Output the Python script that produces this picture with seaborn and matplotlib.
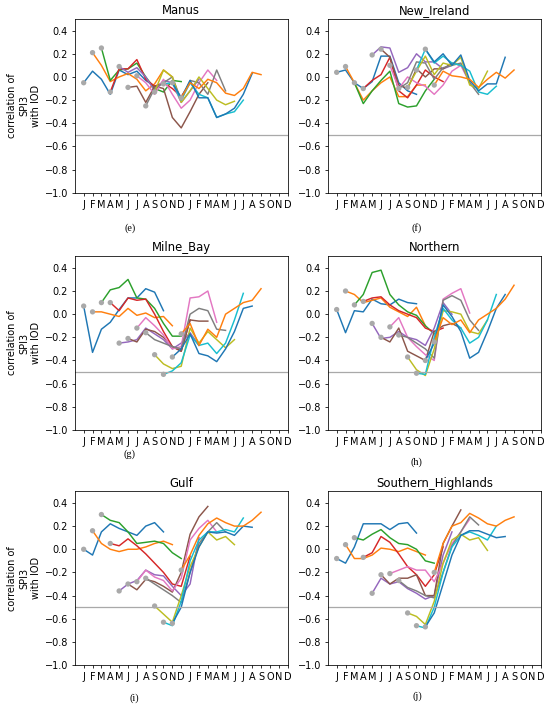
import numpy as np
import pandas as pd
import seaborn as sns
import matplotlib
matplotlib.use("Agg")
from matplotlib import pyplot as plt

# month tick labels over two years
months = list("JFMAMJJASOND") * 2
regions = ["Manus", "New_Ireland", "Milne_Bay", "Northern", "Gulf", "Southern_Highlands"]
letters = ["(e)", "(f)", "(g)", "(h)", "(i)", "(j)"]
start_months = list(range(12))   # one line per start month, 10 months long

manus = [
    [-0.05, 0.05, -0.02, -0.15, 0.06, 0.02, 0.05, -0.03, -0.08, -0.06],
    [0.21, 0.10, -0.04, 0.00, 0.03, -0.02, -0.12, -0.06, 0.06, 0.00],
    [0.25, -0.03, 0.06, 0.07, 0.12, 0.00, -0.10, -0.13, -0.03, -0.04],
    [-0.13, 0.07, 0.07, 0.15, -0.02, -0.08, -0.05, -0.10, -0.17, -0.05],
    [0.09, 0.04, 0.08, 0.00, -0.12, -0.03, -0.05, -0.22, -0.12, -0.02],
    [-0.09, -0.08, -0.22, -0.08, -0.10, -0.35, -0.44, -0.30, -0.15, -0.05],
    [0.01, -0.05, -0.15, -0.02, -0.15, -0.27, -0.20, -0.05, 0.06, -0.03],
    [-0.25, -0.10, -0.05, 0.00, -0.20, -0.03, -0.05, -0.15, 0.06, -0.12],
    [-0.13, 0.06, 0.00, -0.22, -0.12, 0.00, -0.10, -0.20, -0.24, -0.21],
    [-0.06, -0.05, -0.20, -0.05, -0.15, -0.18, -0.35, -0.32, -0.30, -0.20],
    [-0.05, -0.18, -0.03, -0.18, -0.18, -0.35, -0.32, -0.27, -0.15, 0.03],
    [-0.18, -0.05, -0.10, -0.02, -0.05, -0.14, -0.16, -0.10, 0.04, 0.02],
]
new_ireland = [
    [0.04, 0.06, -0.05, -0.10, -0.04, 0.18, 0.18, -0.05, -0.12, -0.15],
    [0.09, -0.05, -0.20, -0.12, -0.05, 0.00, -0.17, -0.17, -0.07, -0.07],
    [-0.05, -0.23, -0.12, -0.03, 0.05, -0.23, -0.26, -0.25, -0.12, -0.02],
    [-0.10, -0.03, 0.02, 0.17, -0.12, -0.18, -0.07, 0.06, 0.00, -0.04],
    [0.19, 0.26, 0.25, 0.04, 0.08, 0.20, 0.13, 0.13, 0.07, 0.10],
    [0.24, 0.17, -0.07, -0.10, 0.07, 0.00, 0.07, 0.07, 0.12, 0.10],
    [0.10, -0.10, 0.00, -0.05, -0.08, -0.15, -0.07, 0.05, 0.10, -0.05],
    [-0.10, -0.05, 0.13, 0.12, -0.02, 0.08, 0.10, 0.12, -0.05, -0.15],
    [-0.09, 0.05, 0.18, 0.02, 0.12, 0.10, 0.17, -0.07, -0.10, 0.05],
    [0.06, 0.24, 0.12, 0.18, 0.12, 0.10, 0.05, -0.13, -0.15, -0.08],
    [0.24, 0.13, 0.20, 0.10, 0.19, -0.03, -0.12, -0.06, -0.06, 0.17],
    [-0.07, 0.05, 0.01, 0.00, -0.02, -0.09, -0.02, 0.04, -0.01, 0.06],
]
milne_bay = [
    [0.07, -0.33, -0.13, -0.07, 0.04, 0.14, 0.14, 0.22, 0.19, 0.03],
    [0.02, 0.02, 0.00, -0.02, 0.05, -0.01, 0.01, -0.03, -0.02, -0.10],
    [0.10, 0.21, 0.23, 0.30, 0.14, 0.13, 0.05, -0.08, -0.19, -0.19],
    [0.10, 0.03, 0.14, 0.12, 0.13, 0.00, -0.15, -0.28, -0.32, -0.05],
    [-0.25, -0.24, -0.22, -0.12, -0.17, -0.22, -0.30, -0.25, -0.16, -0.27],
    [-0.21, -0.24, -0.13, -0.15, -0.20, -0.28, -0.32, -0.05, -0.06, -0.06],
    [-0.12, -0.03, -0.10, -0.18, -0.30, -0.28, 0.14, 0.15, 0.20, -0.07],
    [-0.16, -0.22, -0.25, -0.28, -0.30, 0.00, 0.05, 0.03, -0.13, -0.14],
    [-0.35, -0.43, -0.47, -0.45, -0.12, -0.25, -0.15, -0.22, -0.29, -0.22],
    [-0.52, -0.49, -0.42, -0.18, -0.27, -0.25, -0.34, -0.25, -0.05, 0.18],
    [-0.37, -0.30, -0.17, -0.34, -0.36, -0.41, -0.30, -0.15, 0.05, 0.07],
    [-0.17, -0.08, -0.27, -0.13, -0.20, 0.00, 0.05, 0.10, 0.12, 0.22],
]
northern = [
    [0.04, -0.16, 0.03, 0.02, 0.13, 0.09, 0.08, 0.13, 0.10, 0.09],
    [0.20, 0.17, 0.10, 0.12, 0.14, 0.06, 0.02, -0.02, 0.06, -0.10],
    [0.08, 0.17, 0.36, 0.38, 0.17, 0.08, 0.02, -0.01, -0.10, -0.17],
    [0.11, 0.14, 0.15, 0.08, 0.03, 0.00, -0.03, -0.12, -0.15, -0.12],
    [-0.08, -0.21, -0.20, -0.15, -0.20, -0.22, -0.27, -0.12, 0.10, 0.00],
    [-0.20, -0.24, -0.12, -0.32, -0.36, -0.40, -0.15, -0.10, -0.08, -0.12],
    [-0.11, -0.03, -0.20, -0.28, -0.35, -0.40, 0.13, 0.18, 0.22, 0.01],
    [-0.18, -0.20, -0.25, -0.30, -0.38, 0.12, 0.16, 0.12, -0.05, -0.14],
    [-0.37, -0.48, -0.53, -0.30, 0.03, 0.02, 0.00, -0.15, -0.17, -0.05],
    [-0.51, -0.52, -0.20, 0.05, -0.05, -0.12, -0.25, -0.20, -0.05, 0.17],
    [-0.40, -0.25, 0.08, -0.02, -0.15, -0.38, -0.33, -0.15, 0.05, 0.17],
    [-0.24, -0.03, -0.09, -0.05, -0.16, -0.05, 0.00, 0.05, 0.13, 0.25],
]
gulf = [
    [0.00, -0.05, 0.15, 0.22, 0.18, 0.15, 0.12, 0.20, 0.23, 0.15],
    [0.16, 0.05, 0.00, -0.02, 0.00, 0.00, 0.02, 0.05, 0.07, 0.04],
    [0.30, 0.25, 0.23, 0.15, 0.05, 0.06, 0.07, 0.05, -0.03, -0.08],
    [0.05, 0.03, 0.09, 0.03, -0.04, -0.12, -0.20, -0.30, -0.32, -0.06],
    [-0.36, -0.30, -0.27, -0.18, -0.22, -0.23, -0.32, -0.40, -0.30, 0.10],
    [-0.30, -0.35, -0.26, -0.28, -0.32, -0.37, -0.20, 0.13, 0.28, 0.37],
    [-0.28, -0.18, -0.24, -0.27, -0.36, -0.25, 0.08, 0.18, 0.25, 0.15],
    [-0.25, -0.30, -0.35, -0.40, -0.46, -0.20, 0.05, 0.15, 0.23, 0.15],
    [-0.49, -0.56, -0.63, -0.40, -0.15, 0.02, 0.15, 0.08, 0.11, 0.04],
    [-0.63, -0.66, -0.45, -0.10, 0.08, 0.15, 0.15, 0.17, 0.15, 0.27],
    [-0.64, -0.50, -0.20, 0.02, 0.15, 0.14, 0.15, 0.12, 0.20, 0.19],
    [-0.18, -0.05, 0.12, 0.22, 0.27, 0.23, 0.20, 0.20, 0.25, 0.32],
]
southern_highlands = [
    [-0.08, -0.12, 0.02, 0.22, 0.22, 0.22, 0.17, 0.22, 0.23, 0.14],
    [0.04, -0.08, -0.08, -0.05, 0.01, 0.00, -0.02, 0.01, -0.02, -0.05],
    [0.10, 0.08, 0.13, 0.17, 0.10, 0.05, 0.04, 0.00, -0.10, -0.12],
    [-0.07, -0.03, 0.11, 0.06, -0.04, -0.15, -0.22, -0.32, -0.22, 0.02],
    [-0.38, -0.25, -0.30, -0.28, -0.34, -0.38, -0.43, -0.40, -0.05, 0.15],
    [-0.22, -0.30, -0.25, -0.25, -0.22, -0.40, -0.40, 0.05, 0.20, 0.34],
    [-0.21, -0.18, -0.15, -0.18, -0.18, -0.28, -0.12, 0.05, 0.15, 0.26],
    [-0.27, -0.33, -0.36, -0.40, -0.42, -0.20, 0.03, 0.15, 0.28, 0.21],
    [-0.55, -0.58, -0.65, -0.45, -0.12, 0.08, 0.13, 0.08, 0.10, -0.01],
    [-0.66, -0.68, -0.50, -0.20, 0.02, 0.12, 0.15, 0.12, 0.08, 0.20],
    [-0.67, -0.55, -0.30, -0.05, 0.12, 0.16, 0.16, 0.13, 0.10, 0.11],
    [-0.20, 0.05, 0.20, 0.23, 0.31, 0.27, 0.22, 0.20, 0.25, 0.28],
]
panels = [manus, new_ireland, milne_bay, northern, gulf, southern_highlands]

palette = sns.color_palette("tab10", 10)
palette = palette + palette[:2]

fig = plt.figure(figsize=(550 / 70, 706 / 70), dpi=70)
lefts = [0.136, 0.596]
bottoms = [0.727, 0.391, 0.058]
label_pos = [(0.236, 0.677), (0.758, 0.677), (0.236, 0.357), (0.758, 0.346),
             (0.245, 0.011), (0.758, 0.014)]

for p, (name, series) in enumerate(zip(regions, panels)):
    row, col = divmod(p, 2)
    ax = fig.add_axes([lefts[col], bottoms[row], 0.387, 0.246])

    rows = []
    for k, vals in zip(start_months, series):
        for j, v in enumerate(vals):
            rows.append({"lead": k + j, "corr": v, "start": k})
    df = pd.DataFrame(rows)
    first = df.groupby("start").head(1)

    sns.lineplot(data=df, x="lead", y="corr", hue="start", palette=palette,
                 estimator=None, legend=False, linewidth=1.5, ax=ax)
    sns.scatterplot(data=first, x="lead", y="corr", color="darkgray", s=30,
                    edgecolor="none", zorder=5, ax=ax)
    ax.axhline(-0.5, color="darkgray", linewidth=1.3)

    ax.set_xticks(range(24))
    ax.set_xticklabels(months)
    ax.set_xlim(-1, 23)
    ax.set_ylim(-1.0, 0.5)
    ax.set_yticks(np.arange(-1.0, 0.41, 0.2))
    ax.set_title(name, pad=5)
    ax.set_xlabel("")
    if col == 0:
        ax.set_ylabel("correlation of\nSPI3\nwith IOD", multialignment="center")
    else:
        ax.set_ylabel("")
    fig.text(label_pos[p][0], label_pos[p][1], letters[p], ha="center",
             va="center", family="Liberation Serif", fontsize=10.5)

fig.savefig("out.png", dpi=70)
